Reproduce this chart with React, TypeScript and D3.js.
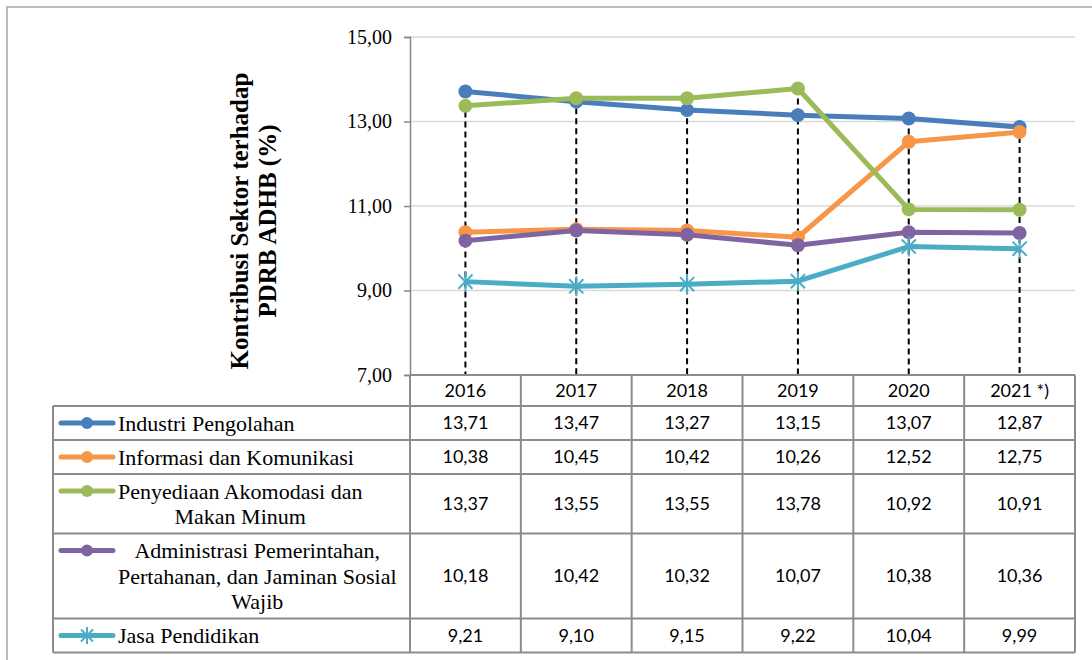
import React, { useEffect, useRef } from "react";
import * as d3 from "d3";

// tahun dan nilai kontribusi per sektor (%)
const years = ["2016", "2017", "2018", "2019", "2020", "2021 *)"];
const industri = [13.71, 13.47, 13.27, 13.15, 13.07, 12.87];
const informasi = [10.38, 10.45, 10.42, 10.26, 12.52, 12.75];
const penyediaan = [13.37, 13.55, 13.55, 13.78, 10.92, 10.91];
const administrasi = [10.18, 10.42, 10.32, 10.07, 10.38, 10.36];
const jasa = [9.21, 9.1, 9.15, 9.22, 10.04, 9.99];
const yTicks = [7, 9, 11, 13, 15];

const seriesNames = [
  ["Industri Pengolahan"],
  ["Informasi dan Komunikasi"],
  ["Penyediaan Akomodasi dan", "Makan Minum"],
  ["Administrasi Pemerintahan,", "Pertahanan, dan Jaminan Sosial", "Wajib"],
  ["Jasa Pendidikan"],
];
const seriesValues = [industri, informasi, penyediaan, administrasi, jasa];
const colors = ["#4A7EBB", "#F79646", "#9BBB59", "#8064A2", "#4BACC6"];

const W = 1092;
const H = 660;

const App: React.FC = () => {
  const svgRef = useRef<SVGSVGElement>(null);

  useEffect(() => {
    if (!svgRef.current) return;
    const svg = d3.select(svgRef.current);
    svg.selectAll("*").remove();

    const serif = "'Liberation Serif', serif";
    const sans = "Lato, 'Liberation Sans', sans-serif";
    const borderColor = "#8C8C8C";

    // bingkai luar
    svg
      .append("rect")
      .attr("x", 7)
      .attr("y", 7)
      .attr("width", W + 20)
      .attr("height", H + 20)
      .attr("fill", "white")
      .attr("stroke", "#A6A6A6")
      .attr("stroke-width", 1.5);

    const plotLeft = 410;
    const plotRight = 1075;
    const plotTop = 37;
    const plotBottom = 375;

    const x = d3.scaleBand().domain(years).range([plotLeft, plotRight]);
    const y = d3.scaleLinear().domain([7, 15]).range([plotBottom, plotTop]);
    const cx = (i: number) => (x(years[i]) || 0) + x.bandwidth() / 2;

    // grid
    svg
      .append("g")
      .selectAll("line")
      .data(yTicks.filter((t) => t > 7))
      .join("line")
      .attr("x1", plotLeft)
      .attr("x2", plotRight)
      .attr("y1", (d) => y(d))
      .attr("y2", (d) => y(d))
      .attr("stroke", "#D9D9D9")
      .attr("stroke-width", 1.5);

    // sumbu Y
    const yAxis = svg
      .append("g")
      .attr("transform", `translate(${plotLeft},0)`)
      .call(
        d3
          .axisLeft(y)
          .tickValues(yTicks)
          .tickSize(6)
          .tickPadding(12)
          .tickFormat((d) => (d as number).toFixed(2).replace(".", ","))
      );
    yAxis.select(".domain").attr("stroke", "#868686").attr("stroke-width", 1.5);
    yAxis.selectAll(".tick line").attr("stroke", "#868686").attr("stroke-width", 1.5);
    yAxis
      .selectAll("text")
      .attr("font-family", serif)
      .attr("font-size", 20)
      .attr("fill", "#000");

    // label sumbu Y
    const yLabel = svg
      .append("text")
      .attr("transform", `translate(252, 221) rotate(-90)`)
      .attr("text-anchor", "middle")
      .attr("font-family", serif)
      .attr("font-weight", "bold")
      .attr("font-size", 25);
    yLabel.append("tspan").attr("x", 0).attr("dy", -4).text("Kontribusi Sektor  terhadap");
    yLabel.append("tspan").attr("x", 0).attr("dy", 28).text("PDRB ADHB (%)");

    // garis putus-putus (drop lines)
    svg
      .append("g")
      .selectAll("line")
      .data(years)
      .join("line")
      .attr("x1", (_d, i) => cx(i))
      .attr("x2", (_d, i) => cx(i))
      .attr("y1", (_d, i) => y(d3.max(seriesValues, (s) => s[i]) || 0))
      .attr("y2", plotBottom)
      .attr("stroke", "#000")
      .attr("stroke-width", 2)
      .attr("stroke-dasharray", "6,4");

    // garis seri
    const line = d3
      .line<number>()
      .x((_d, i) => cx(i))
      .y((d) => y(d));

    const drawMarker = (
      g: d3.Selection<SVGGElement, unknown, null, undefined>,
      k: number,
      px: number,
      py: number,
      scale = 1
    ) => {
      if (k === 4) {
        const r = 10 * scale;
        const star = g.append("g").attr("stroke", colors[k]).attr("stroke-width", 2);
        [45, 90, 135].forEach((a) => {
          const rad = (a * Math.PI) / 180;
          star
            .append("line")
            .attr("x1", px - r * Math.cos(rad))
            .attr("y1", py - r * Math.sin(rad))
            .attr("x2", px + r * Math.cos(rad))
            .attr("y2", py + r * Math.sin(rad));
        });
      } else {
        g.append("circle")
          .attr("cx", px)
          .attr("cy", py)
          .attr("r", 7 * scale)
          .attr("fill", colors[k]);
      }
    };

    seriesValues.forEach((vals, k) => {
      const g = svg.append("g");
      g.append("path")
        .attr("d", line(vals) || "")
        .attr("fill", "none")
        .attr("stroke", colors[k])
        .attr("stroke-width", 5)
        .attr("stroke-linejoin", "round");
      vals.forEach((v, i) => drawMarker(g, k, cx(i), y(v)));
    });

    // tabel data
    const tableLeft = 53;
    const headerTop = plotBottom;
    const headerBottom = 406;
    const lineH = 25.5;
    const rowHeights = seriesNames.map((n) => 8.5 + lineH * n.length);
    const rowTops: number[] = [];
    let acc = headerBottom;
    rowHeights.forEach((h) => {
      rowTops.push(acc);
      acc += h;
    });
    const tableBottom = acc;

    const table = svg.append("g");
    const stroke = (x1: number, y1: number, x2: number, y2: number) =>
      table
        .append("line")
        .attr("x1", x1)
        .attr("y1", y1)
        .attr("x2", x2)
        .attr("y2", y2)
        .attr("stroke", borderColor)
        .attr("stroke-width", 2);

    // garis horizontal
    stroke(plotLeft, headerTop, plotRight, headerTop);
    stroke(tableLeft, headerBottom, plotRight, headerBottom);
    rowTops.forEach((t, r) => stroke(tableLeft, t + rowHeights[r], plotRight, t + rowHeights[r]));
    // garis vertikal
    stroke(tableLeft, headerBottom, tableLeft, tableBottom);
    years.forEach((yr) => stroke(x(yr) || 0, headerTop, x(yr) || 0, tableBottom));
    stroke(plotRight, headerTop, plotRight, tableBottom);

    // header tahun
    table
      .selectAll("text.year")
      .data(years)
      .join("text")
      .attr("class", "year")
      .attr("x", (_d, i) => cx(i))
      .attr("y", (headerTop + headerBottom) / 2)
      .attr("dy", "0.35em")
      .attr("text-anchor", "middle")
      .attr("font-family", sans)
      .attr("font-size", 18)
      .text((d) => d);

    // nilai tabel dan legenda
    seriesValues.forEach((vals, k) => {
      const top = rowTops[k];
      const mid = top + rowHeights[k] / 2;
      table
        .append("g")
        .selectAll("text")
        .data(vals)
        .join("text")
        .attr("x", (_d, i) => cx(i))
        .attr("y", mid)
        .attr("dy", "0.35em")
        .attr("text-anchor", "middle")
        .attr("font-family", sans)
        .attr("font-size", 18)
        .text((d) => d.toFixed(2).replace(".", ","));

      const names = seriesNames[k];
      const firstY = mid - ((names.length - 1) * lineH) / 2;

      // penanda legenda
      const lg = table.append("g");
      lg.append("line")
        .attr("x1", 61)
        .attr("x2", 113)
        .attr("y1", firstY)
        .attr("y2", firstY)
        .attr("stroke", colors[k])
        .attr("stroke-width", 5)
        .attr("stroke-linecap", "round");
      drawMarker(lg, k, 87, firstY, 0.85);

      const txt = table
        .append("text")
        .attr("font-family", serif)
        .attr("font-size", 22)
        .attr("fill", "#000");
      names.forEach((n, j) => {
        txt
          .append("tspan")
          .attr("y", firstY + j * lineH)
          .attr("dy", "0.35em")
          .text(n);
      });
      // lebar baris terpanjang, lalu tiap baris di tengah blok
      let maxW = 0;
      txt.selectAll<SVGTSpanElement, unknown>("tspan").each(function () {
        maxW = Math.max(maxW, this.getComputedTextLength());
      });
      txt
        .attr("text-anchor", "middle")
        .selectAll("tspan")
        .attr("x", 118 + maxW / 2);
    });
  }, []);

  return (
    <svg
      ref={svgRef}
      width={W}
      height={H}
      style={{ position: "absolute", left: 0, top: 0, background: "white" }}
    />
  );
};

export default App;
